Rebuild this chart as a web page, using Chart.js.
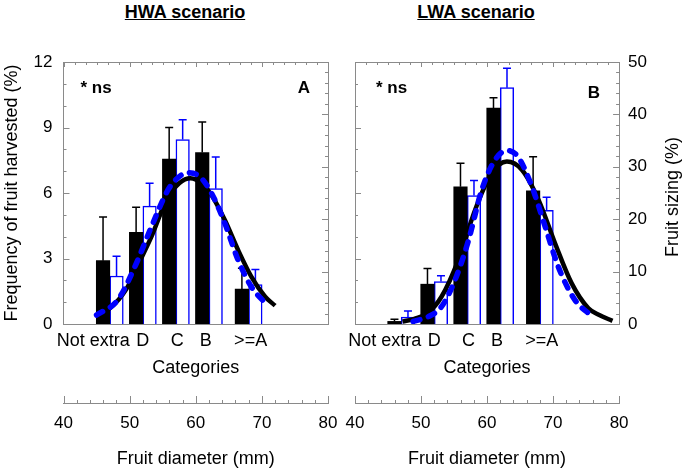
<!DOCTYPE html>
<html>
<head>
<meta charset="utf-8">
<script src="https://cdn.jsdelivr.net/npm/chart.js@4.4.1/dist/chart.umd.min.js"></script>
<style>
  html, body { margin: 0; padding: 0; background: #fff; }
  #wrap { position: relative; width: 685px; height: 471px; overflow: hidden; font-family: 'Liberation Sans', Arial, sans-serif; }
  .ttl { position: absolute; top: 2px; width: 200px; text-align: center; font-weight: bold; font-size: 18px; text-decoration: underline; color: #000; }
  canvas { position: absolute; top: 0; }
</style>
</head>
<body>
<div id="wrap">
  <div class="ttl" style="left:85px">HWA scenario</div>
  <div class="ttl" style="left:376px">LWA scenario</div>
  <canvas id="chartA" width="342" height="471" style="left:0"></canvas>
  <canvas id="chartB" width="343" height="471" style="left:342px"></canvas>
</div>
<script>
const FONT = "'Liberation Sans', Arial, sans-serif";
const GREY = '#8a8a8a';
const BLUE = '#0000ff';

// ===== DATA =====
// categories and where they sit on the fruit diameter scale (mm)
const categories = ['Not extra', 'D', 'C', 'B', '>=A'];
const categoryDiameter = [47, 52, 57, 62, 68];
const categoryLabelAt = [44.5, 52, 57.2, 61.5, 68.3];
const diameterTicks = [40, 50, 60, 70, 80];

// HWA scenario: frequency of fruit harvested (%), bar height + upper error
const hwaBlack = [2.9, 4.2, 7.55, 7.85, 1.6];
const hwaBlackErr = [4.9, 5.35, 9.0, 9.25, 2.55];
const hwaBlue = [2.2, 5.4, 8.45, 6.2, 1.8];
const hwaBlueErr = [3.1, 6.45, 9.35, 7.65, 2.5];

// HWA fitted curves (diameter mm -> %)
const hwaFitBlackX = [45, 47, 49.5, 51.5, 53.3, 55.8, 57.5, 59.2, 61, 62.4, 64.4, 66.4, 68.4, 70.5, 72];
const hwaFitBlack = [0.41, 0.72, 1.6, 2.85, 4.0, 5.83, 6.45, 6.67, 6.4, 5.9, 4.76, 3.39, 2.17, 1.25, 0.84];
const hwaFitBlueX = [45, 48.2, 50.8, 53.3, 55.8, 57.3, 58.8, 60.6, 62.4, 64.4, 66.4, 68.4, 70.9];
const hwaFitBlue = [0.41, 1.1, 2.63, 4.46, 6.14, 6.7, 6.93, 6.75, 5.98, 4.61, 2.93, 1.71, 0.84];

// LWA scenario: fruit sizing (%)
const lwaBlack = [0.5, 7.6, 26.2, 41.2, 25.4];
const lwaBlackErr = [0.9, 10.6, 30.7, 43.2, 31.9];
const lwaBlue = [1.3, 8.1, 24.5, 45.1, 21.7];
const lwaBlueErr = [2.5, 9.2, 27.4, 48.8, 24.2];

const lwaFitBlackX = [47.2, 49, 51, 53.1, 55.65, 58.2, 60.7, 63, 65.3, 67.8, 70.3, 72.8, 75.35, 77, 79];
const lwaFitBlack = [0.45, 1.0, 2.1, 5.2, 12.2, 21.8, 28.8, 31.0, 29.4, 23.7, 15.4, 7.8, 3.0, 1.7, 0.6];
const lwaFitBlueX = [48.8, 51.1, 53.1, 55.15, 57.2, 59.2, 61.2, 63, 64.7, 66.8, 68.8, 70.8, 73.3, 76.1];
const lwaFitBlue = [0.5, 1.4, 3.3, 8.4, 16.0, 25.6, 31.3, 33.1, 31.9, 26.2, 18.6, 10.9, 4.6, 1.3];

function points(xs, ys) {
  return xs.map((x, i) => ({ x: x, y: ys[i] }));
}

// ===== PLUGINS =====
// upper error bars on top of each bar
const errorBars = {
  id: 'errorBars',
  afterDatasetDraw(chart, args) {
    const ds = chart.data.datasets[args.index];
    if (!ds.errTop) return;
    const yScale = chart.scales[ds.yAxisID];
    const ctx = chart.ctx;
    ctx.save();
    ctx.strokeStyle = ds.errColor;
    ctx.lineWidth = 1.5;
    args.meta.data.forEach((bar, i) => {
      const yTop = yScale.getPixelForValue(ds.errTop[i]);
      ctx.beginPath();
      ctx.moveTo(bar.x, bar.y);
      ctx.lineTo(bar.x, yTop);
      ctx.moveTo(bar.x - 4, yTop);
      ctx.lineTo(bar.x + 4, yTop);
      ctx.stroke();
    });
    ctx.restore();
  }
};

// inward tick marks round the frame (and upward on the diameter axis)
function frameTicks(specs) {
  return {
    id: 'frameTicks',
    beforeDatasetsDraw(chart) {
      const { ctx, chartArea: a } = chart;
      ctx.save();
      ctx.strokeStyle = GREY;
      ctx.lineWidth = 1;
      specs.forEach(sp => {
        const s = chart.scales[sp.id];
        const n = Math.round((s.max - s.min) / sp.step);
        for (let k = 0; k <= n; k++) {
          const v = s.min + k * sp.step;
          const r = v / sp.major;
          const len = Math.abs(r - Math.round(r)) < 1e-6 ? sp.long : sp.short;
          const p = Math.round(s.getPixelForValue(v)) + 0.5;
          ctx.beginPath();
          if (s.position === 'left') { ctx.moveTo(a.left, p); ctx.lineTo(a.left + len, p); }
          else if (s.position === 'right') { ctx.moveTo(a.right, p); ctx.lineTo(a.right - len, p); }
          else if (s.position === 'top') { ctx.moveTo(p, a.top); ctx.lineTo(p, a.top + len); }
          else { ctx.moveTo(p, s.top); ctx.lineTo(p, s.top - len); }
          ctx.stroke();
        }
      });
      ctx.restore();
    }
  };
}

// "* ns" note and panel letter inside the plot
function panelMarks(m) {
  return {
    id: 'panelMarks',
    afterDatasetsDraw(chart) {
      const { ctx, chartArea: a } = chart;
      ctx.save();
      ctx.fillStyle = '#000';
      ctx.font = 'bold 17px ' + FONT;
      ctx.textBaseline = 'middle';
      ctx.textAlign = 'left';
      ctx.fillText('* ns', a.left + m.noteDx, a.top + m.noteDy);
      ctx.textAlign = 'right';
      ctx.fillText(m.tag, a.right - m.tagDx, a.top + m.tagDy);
      ctx.restore();
    }
  };
}

// right-hand axis title, read bottom to top
function sideTitle(text, x) {
  return {
    id: 'sideTitle',
    afterDraw(chart) {
      const { ctx, chartArea: a } = chart;
      ctx.save();
      ctx.translate(x, (a.top + a.bottom) / 2 + 4);
      ctx.rotate(-Math.PI / 2);
      ctx.font = '18px ' + FONT;
      ctx.fillStyle = '#000';
      ctx.textAlign = 'center';
      ctx.textBaseline = 'middle';
      ctx.fillText(text, 0, 0);
      ctx.restore();
    }
  };
}

// ===== AXES =====
// label gap is kept as an invisible tick length so side overhang stays small
const noGrid = { display: false, drawTicks: false, offset: false };
const hiddenTicks = len => ({ display: false, drawTicks: true, tickLength: len, offset: false });
const frame = { display: true, color: GREY, width: 1 };

function bottomAxes() {
  return {
    x: {
      type: 'linear', position: 'bottom', weight: 0, min: 40, max: 80, offset: false,
      grid: hiddenTicks(5.5), border: frame,
      afterBuildTicks: s => { s.ticks = categoryLabelAt.map(v => ({ value: v })); },
      ticks: { autoSkip: false, maxRotation: 0, padding: 1, color: '#000', font: { family: FONT, size: 18 },
               callback: (v, i) => categories[i] },
      title: { display: true, text: 'Categories', color: '#000', font: { family: FONT, size: 18 },
               padding: { top: 4.1, bottom: 24.2 } }
    },
    xd: {
      type: 'linear', position: 'bottom', weight: 1, min: 40, max: 80, offset: false,
      grid: hiddenTicks(8), border: frame,
      afterBuildTicks: s => { s.ticks = diameterTicks.map(v => ({ value: v })); },
      ticks: { autoSkip: false, maxRotation: 0, padding: 2, color: '#000', font: { family: FONT, size: 17 } },
      title: { display: true, text: 'Fruit diameter (mm)', color: '#000', font: { family: FONT, size: 18 },
               padding: { top: 12.8, bottom: 1.2 } }
    },
    xt: {
      type: 'linear', position: 'top', min: 40, max: 80, offset: false,
      grid: noGrid, border: frame, ticks: { display: false }
    }
  };
}

const tickSpecs = (leftId, rightId) => [
  { id: leftId, step: 1, major: 3, short: 3, long: 6 },
  { id: rightId, step: 2, major: 10, short: 3, long: 6 },
  { id: 'xt', step: 10 / 6, major: 10, short: 3, long: 5 },
  { id: 'xd', step: 2, major: 10, short: 3, long: 7 }
];

function datasets(d, yId) {
  return [
    { type: 'line', data: points(d.fitBlueX, d.fitBlue), borderColor: BLUE, borderWidth: 5.5,
      borderDash: [7, 9], borderCapStyle: 'round', pointRadius: 0, cubicInterpolationMode: 'monotone',
      order: 0, yAxisID: yId },
    { type: 'line', data: points(d.fitBlackX, d.fitBlack), borderColor: '#000', borderWidth: 4.5,
      pointRadius: 0, cubicInterpolationMode: 'monotone', order: 1, yAxisID: yId },
    { type: 'bar', data: points(categoryDiameter, d.black), errTop: d.blackErr, errColor: '#000',
      backgroundColor: '#000', borderWidth: 0, barThickness: 13.5, order: 2, yAxisID: yId },
    { type: 'bar', data: points(categoryDiameter, d.blue), errTop: d.blueErr, errColor: BLUE,
      backgroundColor: '#fff', borderColor: BLUE, borderWidth: 1.5, barThickness: 13.5, order: 2, yAxisID: yId }
  ];
}

const baseOptions = {
  responsive: false,
  animation: false,
  devicePixelRatio: 1,
  plugins: { legend: { display: false }, tooltip: { enabled: false } }
};

// ===== PANEL A (HWA) =====
new Chart(document.getElementById('chartA'), {
  type: 'line',
  data: {
    datasets: datasets({
      fitBlueX: hwaFitBlueX, fitBlue: hwaFitBlue, fitBlackX: hwaFitBlackX, fitBlack: hwaFitBlack,
      black: hwaBlack, blackErr: hwaBlackErr, blue: hwaBlue, blueErr: hwaBlueErr
    }, 'y')
  },
  options: Object.assign({}, baseOptions, {
    layout: { padding: { top: 62, left: 0, right: 14, bottom: 0 } },
    scales: Object.assign(bottomAxes(), {
      y: {
        type: 'linear', position: 'left', min: 0, max: 12,
        grid: noGrid, border: frame,
        ticks: { stepSize: 3, padding: 11, color: '#000', font: { family: FONT, size: 17 } },
        title: { display: true, text: 'Frequency of fruit harvested (%)', color: '#000',
                 font: { family: FONT, size: 18 }, padding: { top: 1, bottom: 0 } }
      },
      yR: {
        type: 'linear', position: 'right', min: 0, max: 50,
        grid: noGrid, border: frame, ticks: { display: false }
      }
    })
  }),
  plugins: [errorBars, frameTicks(tickSpecs('y', 'yR')), panelMarks({ tag: 'A', noteDx: 17, noteDy: 26, tagDx: 18, tagDy: 26 })]
});

// ===== PANEL B (LWA) =====
new Chart(document.getElementById('chartB'), {
  type: 'line',
  data: {
    datasets: datasets({
      fitBlueX: lwaFitBlueX, fitBlue: lwaFitBlue, fitBlackX: lwaFitBlackX, fitBlack: lwaFitBlack,
      black: lwaBlack, blackErr: lwaBlackErr, blue: lwaBlue, blueErr: lwaBlueErr
    }, 'yR')
  },
  options: Object.assign({}, baseOptions, {
    layout: { padding: { top: 62, left: 13, right: 29, bottom: 0 } },
    scales: Object.assign(bottomAxes(), {
      yL: {
        type: 'linear', position: 'left', min: 0, max: 12,
        grid: noGrid, border: frame, ticks: { display: false }
      },
      yR: {
        type: 'linear', position: 'right', min: 0, max: 50,
        grid: noGrid, border: frame,
        ticks: { stepSize: 10, padding: 9, color: '#000', font: { family: FONT, size: 17 } }
      }
    })
  }),
  plugins: [errorBars, frameTicks(tickSpecs('yL', 'yR')), panelMarks({ tag: 'B', noteDx: 21, noteDy: 26, tagDx: 19, tagDy: 31 }),
            sideTitle('Fruit sizing (%)', 331.5)]
});
</script>
</body>
</html>
